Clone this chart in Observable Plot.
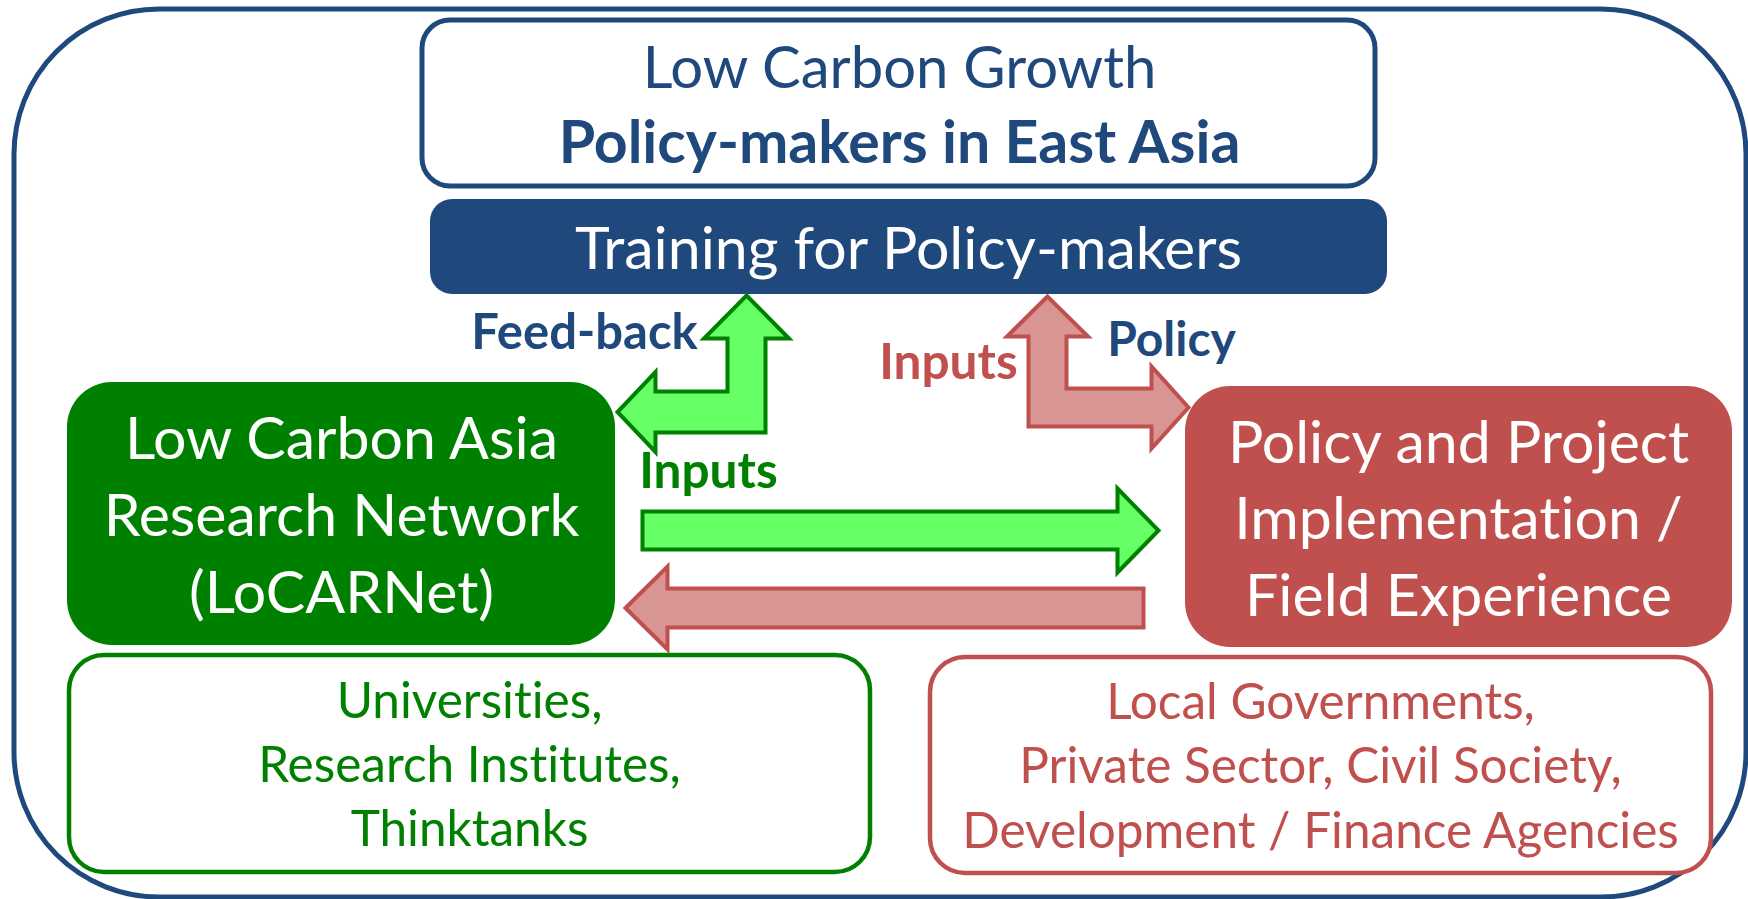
<!DOCTYPE html>
<html><head><meta charset="utf-8">
<script src="https://cdn.jsdelivr.net/npm/d3@7"></script>
<script src="https://cdn.jsdelivr.net/npm/@observablehq/plot@0.6"></script>
<style>html,body{margin:0;padding:0;background:#fff}svg{display:block}svg text{font-variant-ligatures:none}</style>
</head><body><div id="chart"></div>
<script>
// ---- Text content ----
const topLines = ["Low Carbon Growth", "Policy-makers in East Asia"];
const trainingLabel = ["Training for Policy-makers"];
const researchLines = ["Low Carbon Asia", "Research Network", "(LoCARNet)"];
const practiceLines = ["Policy and Project", "Implementation /", "Field Experience"];
const researchMembers = ["Universities,", "Research Institutes,", "Thinktanks"];
const practiceMembers = ["Local Governments,", "Private Sector, Civil Society,", "Development / Finance Agencies"];
const flowLabels = ["Feed-back", "Policy", "Inputs", "Inputs"];

// ---- Colours ----
const BLUE = "#1F497D", GREEN = "#008000", LGREEN = "#66FF66", RED = "#C0504D", LRED = "#D99594";
const FONT = "Lato, 'Open Sans', sans-serif";

// ---- Layout (diagram coordinates, same units as the page) ----
const W = 1748, H = 899;
const boxes = [
  {name: "frame",   x1: 14,   x2: 1746, y1: 9,   y2: 897, rx: 145, fill: "none",  stroke: BLUE,  sw: 5},
  {name: "top",     x1: 422,  x2: 1375, y1: 20,  y2: 186, rx: 28,  fill: "white", stroke: BLUE,  sw: 5},
  {name: "train",   x1: 430,  x2: 1387, y1: 199, y2: 294, rx: 22,  fill: BLUE,    stroke: "none", sw: 0},
  {name: "research",x1: 67,   x2: 615,  y1: 382, y2: 645, rx: 45,  fill: GREEN,   stroke: "none", sw: 0},
  {name: "practice",x1: 1185, x2: 1732, y1: 386, y2: 647, rx: 45,  fill: RED,     stroke: "none", sw: 0},
  {name: "rmembers",x1: 69,   x2: 870,  y1: 655, y2: 872, rx: 35,  fill: "white", stroke: GREEN, sw: 4.5},
  {name: "pmembers",x1: 930,  x2: 1711, y1: 657, y2: 873, rx: 35,  fill: "white", stroke: RED,   sw: 4.5}
];

// text blocks: centre x, first baseline, line spacing
const textBlocks = [
  {lines: [topLines[0]], cx: 899, y0: 87,  dy: 0,  size: 58, weight: "normal", fill: BLUE},
  {lines: [topLines[1]], cx: 899, y0: 162, dy: 0,  size: 59, weight: "bold",   fill: BLUE},
  {lines: trainingLabel, cx: 908, y0: 268, dy: 0,  size: 59, weight: "normal", fill: "white"},
  {lines: researchLines, cx: 341, y0: 458, dy: 77, size: 59, weight: "normal", fill: "white"},
  {lines: practiceLines, cx: 1458,y0: 462, dy: 76.5, size: 59, weight: "normal", fill: "white"},
  {lines: researchMembers, cx: 469, y0: 717, dy: 64, size: 49.5, weight: "normal", fill: GREEN},
  {lines: practiceMembers, cx: 1320, y0: 718, dy: 64.5, size: 49.5, weight: "normal", fill: RED},
  {lines: [flowLabels[0]], cx: 584,  y0: 348, dy: 0, size: 49, weight: "bold", fill: BLUE},
  {lines: [flowLabels[1]], cx: 1171, y0: 355, dy: 0, size: 48, weight: "bold", fill: BLUE},
  {lines: [flowLabels[2]], cx: 948,  y0: 378, dy: 0, size: 49.5, weight: "bold", fill: RED},
  {lines: [flowLabels[3]], cx: 708,  y0: 487, dy: 0, size: 49.5, weight: "bold", fill: GREEN}
];

// block arrows
const straightArrows = [
  {id: "inputsRight", tail: 642,  tip: 1158, headBase: 1117, cy: 530,   body: 19,   head: 42,   fill: LGREEN, stroke: GREEN},
  {id: "inputsLeft",  tail: 1143, tip: 625,  headBase: 667,  cy: 607.5, body: 19.5, head: 41.5, fill: LRED,   stroke: RED}
];
const elbowArrows = [
  {id: "feedback", cx: 746,  tipY: 295, headBaseY: 338, stem: 19, head: 42.5, armCy: 411.5, arm: 20.5, armHeadBase: 655,  armTip: 617,  armHead: 40, fill: LGREEN, stroke: GREEN},
  {id: "policy",   cx: 1047, tipY: 296, headBaseY: 336, stem: 19, head: 40.5, armCy: 407,   arm: 19,   armHeadBase: 1151, armTip: 1188, armHead: 41, fill: LRED,   stroke: RED}
];

// ---- geometry helpers ----
function straightOutline(a) {
  return [
    [a.tail, a.cy - a.body], [a.headBase, a.cy - a.body], [a.headBase, a.cy - a.head],
    [a.tip, a.cy], [a.headBase, a.cy + a.head], [a.headBase, a.cy + a.body], [a.tail, a.cy + a.body]
  ].map(([x, y]) => ({id: a.id, x, y}));
}
function elbowOutline(a) {
  const s = Math.sign(a.armTip - a.cx);
  return [
    [a.cx, a.tipY],
    [a.cx - s * a.head, a.headBaseY], [a.cx - s * a.stem, a.headBaseY],
    [a.cx - s * a.stem, a.armCy + a.arm], [a.armHeadBase, a.armCy + a.arm],
    [a.armHeadBase, a.armCy + a.armHead], [a.armTip, a.armCy],
    [a.armHeadBase, a.armCy - a.armHead], [a.armHeadBase, a.armCy - a.arm],
    [a.cx + s * a.stem, a.armCy - a.arm], [a.cx + s * a.stem, a.headBaseY],
    [a.cx + s * a.head, a.headBaseY]
  ].map(([x, y]) => ({id: a.id, x, y}));
}

const marks = [];
for (const b of boxes) {
  marks.push(Plot.rect([b], {x1: "x1", x2: "x2", y1: "y1", y2: "y2", rx: b.rx, fill: b.fill, stroke: b.stroke, strokeWidth: b.sw}));
}
for (const a of straightArrows) {
  marks.push(Plot.line(straightOutline(a), {x: "x", y: "y", z: "id", curve: "linear-closed", fill: a.fill, stroke: a.stroke, strokeWidth: 4, strokeLinejoin: "miter", strokeMiterlimit: 10}));
}
for (const a of elbowArrows) {
  marks.push(Plot.line(elbowOutline(a), {x: "x", y: "y", z: "id", curve: "linear-closed", fill: a.fill, stroke: a.stroke, strokeWidth: 4, strokeLinejoin: "miter", strokeMiterlimit: 10}));
}
for (const t of textBlocks) {
  const rows = t.lines.map((s, i) => ({s, x: t.cx, y: t.y0 + i * t.dy}));
  marks.push(Plot.text(rows, {x: "x", y: "y", text: "s", lineAnchor: "bottom", textAnchor: "middle",
    fontSize: t.size, fontWeight: t.weight, fill: t.fill, fontFamily: FONT}));
}

const chart = Plot.plot({
  width: W, height: H, margin: 0,
  x: {domain: [0, W], range: [0, W], axis: null},
  y: {domain: [0, H], range: [0, H], axis: null},
  style: {background: "white"},
  marks
});
document.getElementById("chart").appendChild(chart);
</script>
</body></html>
